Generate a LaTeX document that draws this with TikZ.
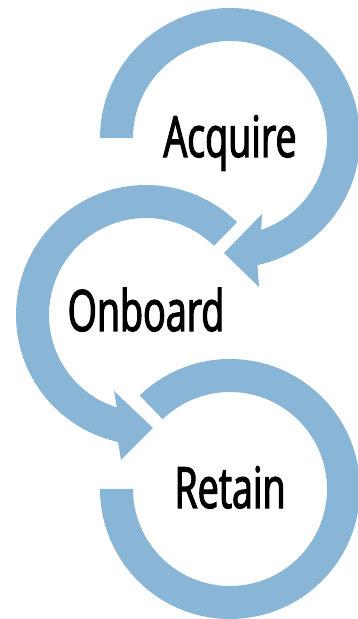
\documentclass[tikz,border=0pt]{standalone}
\usepackage{fontspec}
\newfontfamily\lblfont[FakeStretch=0.66,FakeBold=2]{Open Sans}
\usetikzlibrary{calc}
\definecolor{ringblue}{RGB}{137,182,214}
\begin{document}
\begin{tikzpicture}[x=1pt,y=1pt,
  ring/.style={fill=ringblue,draw=none},
  lbl/.style={font=\lblfont\fontsize{57}{60}\selectfont,inner sep=0pt,anchor=base}]
\useasboundingbox (0,0) rectangle (358,619);
\coordinate (ca) at (230,481);
\coordinate (cb) at (146,304);
\coordinate (cc) at (230,130);
% Acquire ring
\fill[ring] ($(ca)+(180:130)$) arc[start angle=180,end angle=-77.8,radius=130pt]
  -- (259,332) -- (224,366) -- (262,405) -- ($(ca)+(-71.2:97)$)
  arc[start angle=-71.2,end angle=180,radius=97pt] -- cycle;
% Onboard ring
\fill[ring] ($(cb)+(45.5:130)$) arc[start angle=45.5,end angle=257.6,radius=130pt]
  -- (121,159) -- (153,191) -- (114,228) -- ($(cb)+(252.5:97)$)
  arc[start angle=252.5,end angle=45.5,radius=97pt] -- cycle;
% Retain ring
\fill[ring] ($(cc)+(134:130)$) arc[start angle=134,end angle=-180,radius=130pt]
  -- ($(cc)+(180:97)$) arc[start angle=-180,end angle=134,radius=97pt] -- cycle;
\node[lbl] (acq) at (230,462) {Acquire};
\node[lbl] (onb) at (146,288) {Onboard};
\node[lbl] (ret) at (230,111) {Retain};
\end{tikzpicture}
\end{document}
